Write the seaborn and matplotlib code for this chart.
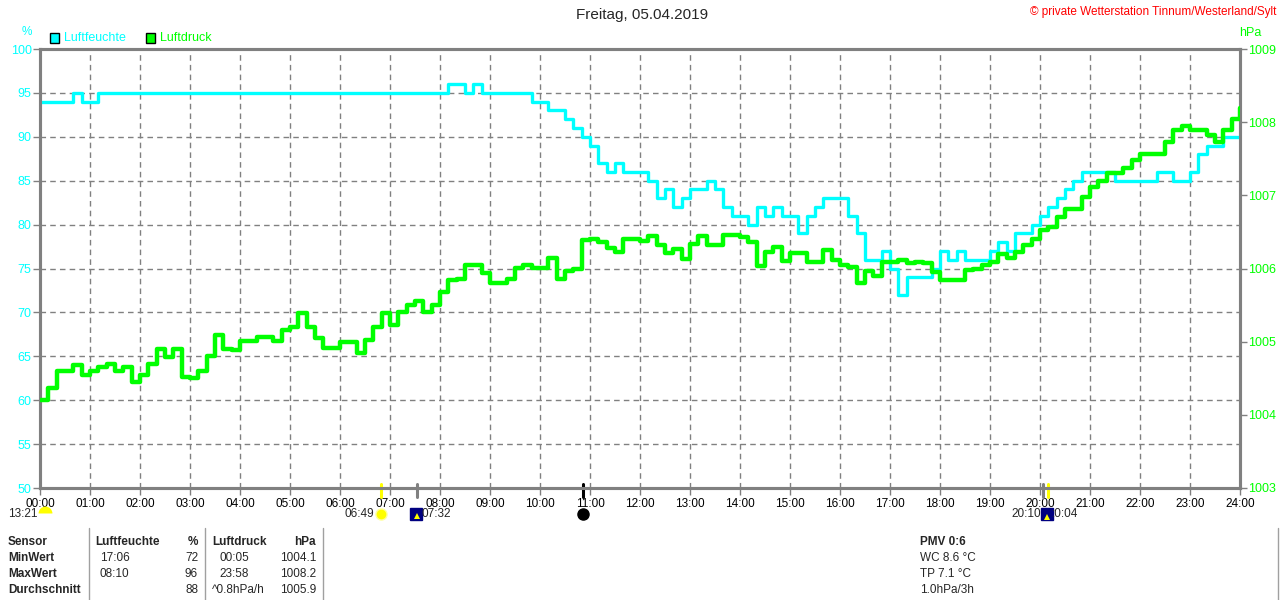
import numpy as np
import pandas as pd
import seaborn as sns
import matplotlib
matplotlib.use("Agg")
import matplotlib.pyplot as plt
import matplotlib.transforms as mtransforms
from matplotlib.patches import Rectangle
from matplotlib.lines import Line2D

# one reading every 10 minutes, 00:00 .. 24:00
hours = np.arange(145) / 6.0

humidity = [
    94, 94, 94, 94, 95, 94,
    94, 95, 95, 95, 95, 95,
    95, 95, 95, 95, 95, 95,
    95, 95, 95, 95, 95, 95,
    95, 95, 95, 95, 95, 95,
    95, 95, 95, 95, 95, 95,
    95, 95, 95, 95, 95, 95,
    95, 95, 95, 95, 95, 95,
    95, 96, 96, 95, 96, 95,
    95, 95, 95, 95, 95, 94,
    94, 93, 93, 92, 91, 90,
    89, 87, 86, 87, 86, 86,
    86, 85, 83, 84, 82, 83,
    84, 84, 85, 84, 82, 81,
    81, 80, 82, 81, 82, 81,
    81, 79, 81, 82, 83, 83,
    83, 81, 79, 76, 76, 77,
    75, 72, 74, 74, 74, 75,
    77, 76, 77, 76, 76, 76,
    77, 78, 77, 79, 79, 80,
    81, 82, 83, 84, 85, 86,
    86, 86, 86, 85, 85, 85,
    85, 85, 86, 86, 85, 85,
    86, 88, 89, 89, 90, 90,
    90,
]

pressure = [
    1004.20, 1004.36, 1004.60, 1004.60, 1004.68, 1004.55,
    1004.60, 1004.65, 1004.70, 1004.60, 1004.65, 1004.45,
    1004.55, 1004.70, 1004.90, 1004.79, 1004.90, 1004.52,
    1004.50, 1004.60, 1004.80, 1005.09, 1004.90, 1004.88,
    1005.01, 1005.01, 1005.07, 1005.07, 1005.01, 1005.16,
    1005.20, 1005.39, 1005.20, 1005.05, 1004.92, 1004.92,
    1005.00, 1005.00, 1004.85, 1005.02, 1005.20, 1005.39,
    1005.23, 1005.41, 1005.50, 1005.55, 1005.41, 1005.50,
    1005.68, 1005.84, 1005.85, 1006.05, 1006.05, 1005.94,
    1005.80, 1005.80, 1005.85, 1006.01, 1006.05, 1006.01,
    1006.01, 1006.15, 1005.85, 1005.97, 1006.00, 1006.39,
    1006.40, 1006.36, 1006.28, 1006.23, 1006.40, 1006.41,
    1006.38, 1006.45, 1006.32, 1006.21, 1006.26, 1006.13,
    1006.33, 1006.45, 1006.32, 1006.32, 1006.46, 1006.46,
    1006.43, 1006.36, 1006.03, 1006.23, 1006.30, 1006.10,
    1006.21, 1006.21, 1006.09, 1006.09, 1006.25, 1006.12,
    1006.05, 1006.02, 1005.80, 1005.96, 1005.90, 1006.09,
    1006.09, 1006.12, 1006.07, 1006.09, 1006.07, 1005.95,
    1005.84, 1005.84, 1005.84, 1005.98, 1006.00, 1006.05,
    1006.09, 1006.20, 1006.14, 1006.23, 1006.32, 1006.40,
    1006.52, 1006.57, 1006.70, 1006.82, 1006.82, 1006.98,
    1007.12, 1007.20, 1007.30, 1007.30, 1007.37, 1007.48,
    1007.57, 1007.57, 1007.57, 1007.73, 1007.89, 1007.95,
    1007.89, 1007.89, 1007.83, 1007.73, 1007.89, 1008.05,
    1008.20,
]

hour_labels = ["%02d:00" % h for h in range(25)]
hum_ticks = [50, 55, 60, 65, 70, 75, 80, 85, 90, 95, 100]
press_ticks = [1003, 1004, 1005, 1006, 1007, 1008, 1009]

sun_events = ["06:49", "20:10"]
moon_events = ["07:32", "20:04"]
dark_event = "10:52"

table_rows = [
    ("Sensor", "Luftfeuchte", "%", "Luftdruck", "hPa", "PMV 0:6"),
    ("MinWert", "17:06", "72", "00:05", "1004.1", "WC 8.6 °C"),
    ("MaxWert", "08:10", "96", "23:58", "1008.2", "TP 7.1 °C"),
    ("Durchschnitt", "", "88", "^0.8hPa/h", "1005.9", "1.0hPa/3h"),
]

CYAN = "#00FFFF"
GREEN = "#00FF00"
GREY = "#808080"


def to_h(s):
    hh, mm = s.split(":")
    return int(hh) + int(mm) / 60.0


def fx(px):
    return px / 1280.0


def fy(py):
    return 1 - py / 600.0


df = pd.DataFrame({"time": hours, "humidity": humidity, "pressure": pressure})

sns.set_style("white")
plt.rcParams["font.family"] = ["Liberation Sans", "DejaVu Sans"]

fig = plt.figure(figsize=(12.8, 6), dpi=100)
ax = fig.add_axes([fx(40), fy(488), 1200 / 1280, 439 / 600])
ax2 = ax.twinx()

sns.lineplot(data=df, x="time", y="humidity", ax=ax, color=CYAN, linewidth=2.4,
             drawstyle="steps-post", estimator=None, zorder=3)
sns.lineplot(data=df, x="time", y="pressure", ax=ax2, color=GREEN, linewidth=3.2,
             drawstyle="steps-post", estimator=None, zorder=3)

ax.set_xlim(0, 24)
ax.set_ylim(50, 100)
ax2.set_ylim(1003, 1009)
ax.set_xticks(range(25))
ax.set_xticklabels(hour_labels)
ax.set_yticks(hum_ticks)
ax.set_yticklabels([str(v) for v in hum_ticks])
ax2.set_yticks(press_ticks)
ax2.set_yticklabels([str(v) for v in press_ticks])
ax.set_xlabel("")
ax.set_ylabel("")
ax2.set_ylabel("")

ax.grid(True, color=GREY, linestyle=(0, (4, 3)), linewidth=1)
ax.set_axisbelow(True)
ax2.grid(False)

for a in (ax, ax2):
    for sp in a.spines.values():
        sp.set_color(GREY)
        sp.set_linewidth(2.2)

ax.tick_params(axis="x", direction="out", length=5, width=1, color=GREY,
               labelsize=8.5, labelcolor="black", pad=2, bottom=True)
ax.tick_params(axis="y", direction="out", length=5, width=1, color=GREY,
               labelsize=9, labelcolor=CYAN, pad=1, left=True)
ax2.tick_params(axis="y", direction="out", length=5, width=1, color=GREY,
                labelsize=9, labelcolor=GREEN, pad=1, right=True)

# sun / moon marks on the time axis
bt = mtransforms.blended_transform_factory(ax.transData, fig.transFigure)
for t in sun_events:
    ax.add_line(Line2D([to_h(t)] * 2, [fy(484), fy(497)], transform=bt,
                       color="#FFFF00", lw=2.2, clip_on=False, zorder=5))
for t in moon_events:
    ax.add_line(Line2D([to_h(t)] * 2, [fy(484), fy(497)], transform=bt,
                       color=GREY, lw=2.2, clip_on=False, zorder=5))
ax.add_line(Line2D([to_h(dark_event)] * 2, [fy(484), fy(497)], transform=bt,
                   color="black", lw=2.2, clip_on=False, zorder=5))

# icons below the axis
ax.plot([0.09], [fy(513)], transform=bt, marker="o", markersize=10, color="#FFFF00",
        fillstyle="top", markerfacecoloralt="none", markeredgewidth=0, clip_on=False)
ax.plot([to_h(sun_events[0])], [fy(514)], transform=bt, marker="o", markersize=8,
        color="#FFFF00", markeredgecolor="#FFFFA0", clip_on=False)
ax.plot([to_h(moon_events[0]) - 0.02], [fy(514)], transform=bt, marker="s", markersize=8,
        color="#000080", clip_on=False)
ax.plot([to_h(moon_events[0])], [fy(516)], transform=bt, marker="^", markersize=4,
        color="#FFFF00", markeredgewidth=0, clip_on=False)
ax.plot([to_h(dark_event)], [fy(514)], transform=bt, marker="o", markersize=8,
        color="black", clip_on=False)
ax.plot([to_h(sun_events[1]) - 0.02], [fy(514)], transform=bt, marker="s", markersize=8,
        color="#000080", clip_on=False)
ax.plot([to_h(sun_events[1]) - 0.02], [fy(517)], transform=bt, marker="^", markersize=4,
        color="#FFFF00", markeredgewidth=0, clip_on=False)

fs = 8.5
fig.text(fx(38), fy(514), "13:21", ha="right", va="center", fontsize=fs)
fig.text(fx(374), fy(514), sun_events[0], ha="right", va="center", fontsize=fs)
fig.text(fx(422), fy(514), moon_events[0], ha="left", va="center", fontsize=fs)
fig.text(fx(1041), fy(514), sun_events[1], ha="right", va="center", fontsize=fs)
fig.text(fx(1052), fy(514), ":0:04", ha="left", va="center", fontsize=fs)

# header texts
fig.text(fx(642), fy(15), "Freitag, 05.04.2019", ha="center", va="center", fontsize=11)
fig.text(fx(1276), fy(12), "© private Wetterstation Tinnum/Westerland/Sylt",
         ha="right", va="center", fontsize=8.5, color="#FF0000")
fig.text(fx(27), fy(32), "%", ha="center", va="center", fontsize=8.5, color=CYAN)
fig.text(fx(1250), fy(33), "hPa", ha="center", va="center", fontsize=9, color=GREEN)

# legend boxes
for x0, col, lab in [(50, CYAN, "Luftfeuchte"), (146, GREEN, "Luftdruck")]:
    fig.add_artist(Rectangle((fx(x0), fy(43)), 9 / 1280, 10 / 600, facecolor=col,
                             edgecolor="black", lw=1, transform=fig.transFigure))
    fig.text(fx(x0 + 14), fy(38), lab, ha="left", va="center", fontsize=9, color=col)

# statistics table
for xs in (88.5, 205, 323):
    fig.add_artist(Line2D([fx(xs)] * 2, [fy(528), fy(600)], color="#A0A0A0", lw=1))
fig.add_artist(Line2D([fx(1278)] * 2, [fy(528), fy(600)], color="#A0A0A0", lw=1))

row_y = [542, 558, 574, 590]
for i, row in enumerate(table_rows):
    y = fy(row_y[i])
    head = "bold" if i == 0 else "normal"
    fig.text(fx(8), y, row[0], ha="left", va="center", fontsize=fs, fontweight="bold")
    fig.text(fx(95) if i == 0 else fx(100), y, row[1], ha="left", va="center",
             fontsize=fs, fontweight=head)
    fig.text(fx(198), y, row[2], ha="right", va="center", fontsize=fs, fontweight=head)
    fig.text(fx(212) if i in (0, 3) else fx(219), y, row[3], ha="left", va="center",
             fontsize=fs, fontweight=head)
    fig.text(fx(316), y, row[4], ha="right", va="center", fontsize=fs, fontweight=head)
    fig.text(fx(920), y, row[5], ha="left", va="center", fontsize=fs, fontweight=head)

fig.savefig("out.png", dpi=100)
